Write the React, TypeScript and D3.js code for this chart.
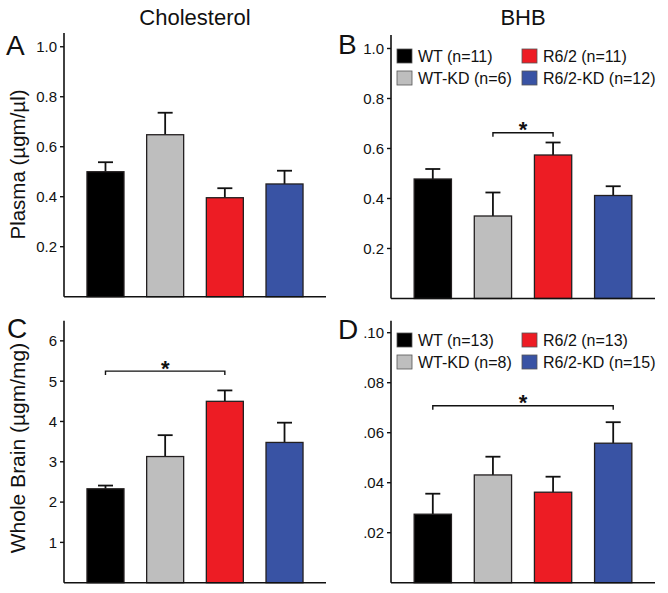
import React from "react";
import * as d3 from "d3";

const groups = ["WT", "WT-KD", "R6/2", "R6/2-KD"];
const groupColors = ["#000000", "#bebebe", "#ed1c24", "#3953a4"];

const columnTitles = ["Cholesterol", "BHB"];
const rowLabels = ["Plasma (\u00b5gm/\u00b5l)", "Whole Brain (\u00b5gm/mg)"];
const panelLetters = ["A", "B", "C", "D"];

const cholPlasmaMean = [0.5, 0.648, 0.396, 0.451];
const cholPlasmaErr = [0.038, 0.088, 0.038, 0.053];
const bhbPlasmaMean = [0.478, 0.33, 0.574, 0.412];
const bhbPlasmaErr = [0.04, 0.094, 0.05, 0.037];
const cholBrainMean = [2.33, 3.13, 4.5, 3.48];
const cholBrainErr = [0.08, 0.53, 0.27, 0.49];
const bhbBrainMean = [0.0274, 0.0431, 0.0362, 0.0558];
const bhbBrainErr = [0.0082, 0.0073, 0.0062, 0.0084];

const plasmaN = [11, 6, 11, 12];
const brainN = [13, 8, 13, 15];

const plasmaTicks = [0.2, 0.4, 0.6, 0.8, 1.0];
const cholBrainTicks = [1, 2, 3, 4, 5, 6];
const bhbBrainTicks = [0.02, 0.04, 0.06, 0.08, 0.1];

const FONT = "'Liberation Sans', Arial, Helvetica, sans-serif";

type PanelProps = {
  left: number;
  right: number;
  top: number;
  bottom: number;
  yMax: number;
  ticks: number[];
  fmt: (v: number) => string;
  means: number[];
  errs: number[];
  letter: string;
  letterX: number;
  letterY: number;
  legendN?: number[];
  legendY?: number;
  sig?: { a: number; b: number; level: number };
};

function Panel(p: PanelProps) {
  const x = d3
    .scaleBand<string>()
    .domain(groups)
    .range([p.left, p.right])
    .paddingInner(0.38)
    .paddingOuter(0.385);
  const y = d3.scaleLinear().domain([0, p.yMax]).range([p.bottom, p.top]);
  const bw = x.bandwidth();
  const cap = 15;
  return (
    <g>
      <text x={p.letterX} y={p.letterY} fontSize={28} fontFamily={FONT} fill="#111">
        {p.letter}
      </text>
      {groups.map((g, i) => {
        const x0 = x(g)!;
        const cx = x0 + bw / 2;
        const yt = y(p.means[i]);
        const ye = y(p.means[i] + p.errs[i]);
        return (
          <g key={g}>
            <line x1={cx} x2={cx} y1={yt} y2={ye} stroke="#111" strokeWidth={1.8} />
            <line x1={cx - cap / 2} x2={cx + cap / 2} y1={ye} y2={ye} stroke="#111" strokeWidth={1.8} />
            <rect
              x={x0}
              y={yt}
              width={bw}
              height={p.bottom - yt}
              fill={groupColors[i]}
              stroke="#231f20"
              strokeWidth={1.3}
            />
          </g>
        );
      })}
      <line x1={p.left} x2={p.left} y1={p.top} y2={p.bottom} stroke="#111" strokeWidth={1.6} />
      <line x1={p.left} x2={p.right} y1={p.bottom} y2={p.bottom} stroke="#111" strokeWidth={1.6} />
      {p.ticks.map((t) => (
        <g key={t}>
          <line x1={p.left - 4} x2={p.left} y1={y(t)} y2={y(t)} stroke="#111" strokeWidth={1.4} />
          <text
            x={p.left - 7}
            y={y(t)}
            dy="0.36em"
            textAnchor="end"
            fontSize={15}
            fontFamily={FONT}
            fill="#111"
          >
            {p.fmt(t)}
          </text>
        </g>
      ))}
      {p.legendN &&
        groups.map((g, i) => {
          const col = i === 0 || i === 1 ? 0 : 1;
          const row = i === 0 || i === 2 ? 0 : 1;
          const sx = p.left + 6 + col * 125;
          const sy = p.legendY! + row * 22;
          return (
            <g key={"lg" + g}>
              <rect x={sx} y={sy} width={15} height={14} fill={groupColors[i]} stroke="#555" strokeWidth={0.8} />
              <text x={sx + 21} y={sy + 13} fontSize={16} fontFamily={FONT} fill="#111">
                {`${g} (n=${p.legendN![i]})`}
              </text>
            </g>
          );
        })}
      {p.sig && (() => {
        const xa = x(groups[p.sig.a])! + bw / 2;
        const xb = x(groups[p.sig.b])! + bw / 2;
        const yl = y(p.sig.level);
        return (
          <g>
            <path
              d={`M${xa},${yl + 4}V${yl}H${xb}V${yl + 4}`}
              fill="none"
              stroke="#111"
              strokeWidth={1.4}
            />
            <text
              x={(xa + xb) / 2}
              y={yl + 4.5}
              textAnchor="middle"
              fontSize={22}
              fontWeight="bold"
              fontFamily={FONT}
              fill="#111"
            >
              *
            </text>
          </g>
        );
      })()}
    </g>
  );
}

const noLeadingZero = (v: number) => d3.format(".2f")(v).replace(/^0/, "");

export default function App() {
  return (
    <svg
      width={668}
      height={593}
      style={{ position: "absolute", left: 0, top: 0, background: "#fff" }}
    >
      <rect width={668} height={593} fill="#fff" />
      <text x={195} y={25} textAnchor="middle" fontSize={22} fontFamily={FONT} fill="#111">
        {columnTitles[0]}
      </text>
      <text x={523} y={25} textAnchor="middle" fontSize={22} fontFamily={FONT} fill="#111">
        {columnTitles[1]}
      </text>
      <text
        transform="translate(25,164.5) rotate(-90)"
        textAnchor="middle"
        fontSize={20.5}
        fontFamily={FONT}
        fill="#111"
      >
        {rowLabels[0]}
      </text>
      <text
        transform="translate(25,448) rotate(-90)"
        textAnchor="middle"
        fontSize={21}
        fontFamily={FONT}
        fill="#111"
      >
        {rowLabels[1]}
      </text>
      <Panel
        left={64}
        right={326}
        top={33}
        bottom={296.7}
        yMax={1.055}
        ticks={plasmaTicks}
        fmt={d3.format(".1f")}
        means={cholPlasmaMean}
        errs={cholPlasmaErr}
        letter={panelLetters[0]}
        letterX={6}
        letterY={55}
      />
      <Panel
        left={391}
        right={655}
        top={35}
        bottom={298.5}
        yMax={1.054}
        ticks={plasmaTicks}
        fmt={d3.format(".1f")}
        means={bhbPlasmaMean}
        errs={bhbPlasmaErr}
        letter={panelLetters[1]}
        letterX={338}
        letterY={54}
        legendN={plasmaN}
        legendY={49}
        sig={{ a: 1, b: 2, level: 0.663 }}
      />
      <Panel
        left={64}
        right={326}
        top={320.7}
        bottom={582.7}
        yMax={6.5}
        ticks={cholBrainTicks}
        fmt={d3.format("d")}
        means={cholBrainMean}
        errs={cholBrainErr}
        letter={panelLetters[2]}
        letterX={7}
        letterY={338}
        sig={{ a: 0, b: 2, level: 5.25 }}
      />
      <Panel
        left={391}
        right={655}
        top={320.7}
        bottom={582.7}
        yMax={0.1048}
        ticks={bhbBrainTicks}
        fmt={noLeadingZero}
        means={bhbBrainMean}
        errs={bhbBrainErr}
        letter={panelLetters[3]}
        letterX={338}
        letterY={339}
        legendN={brainN}
        legendY={333}
        sig={{ a: 0, b: 3, level: 0.0708 }}
      />
    </svg>
  );
}
